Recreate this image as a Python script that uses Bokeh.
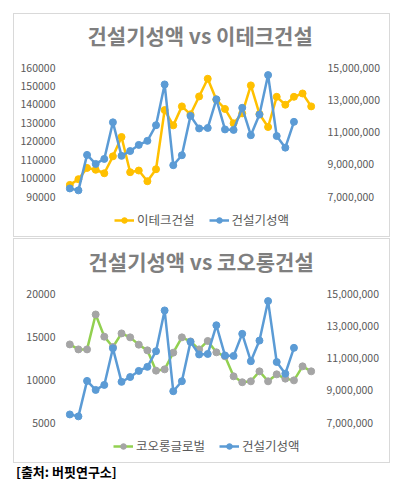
from bokeh.plotting import figure
from bokeh.models import (Range1d, LinearAxis, FixedTicker, NumeralTickFormatter,
                          Legend, LegendItem, Div, Title)
from bokeh.layouts import column
from bokeh.embed import file_html
from bokeh.resources import INLINE

# ---- data ----
months = list(range(29))
etech = [96300, 99400, 105500, 104500, 102600, 111800, 122300, 103200, 104100, 98300,
         104800, 136900, 128600, 138900, 134600, 144300, 153900, 142500, 137500, 129700,
         135100, 150300, 134800, 127700, 144100, 139800, 144100, 145900, 138900]
kolon = [14080, 13500, 13500, 17560, 14980, 13780, 15360, 14900, 14050, 13390,
         11030, 11180, 13120, 14900, 14430, 13500, 14480, 13160, 12700, 10370,
         9680, 9790, 10950, 9790, 10600, 10100, 9900, 11530, 10950]
construction = [7500000, 7380000, 9580000, 9020000, 9330000, 11600000, 9520000, 9820000,
                10200000, 10450000, 11420000, 13950000, 8940000, 9560000, 12000000,
                11220000, 11250000, 13030000, 11160000, 11130000, 12500000, 10800000,
                12080000, 14530000, 10750000, 10030000, 11630000]
etech_ticks = [90000, 100000, 110000, 120000, 130000, 140000, 150000, 160000]
kolon_ticks = [5000, 10000, 15000, 20000]
cons_ticks = [7000000, 9000000, 11000000, 13000000, 15000000]

title1 = "건설기성액 vs 이테크건설"
title2 = "건설기성액 vs 코오롱건설"
label_etech = "이테크건설"
label_kolon = "코오롱글로벌"
label_cons = "건설기성액"
source = "[출처: 버핏연구소]"

FONT = "Noto Sans CJK KR"
BLUE = "#5B9BD5"
ORANGE = "#FFC000"
GREEN = "#92D050"
GRAY = "#A5A5A5"
TXT = "#595959"


def make_chart(title, left_vals, left_ticks, left_color, left_marker, left_label,
               width, height, mbl, mbr, mbt, mbb, data_px, title_off, legend_x,
               legend_y, lstand, rstand, margin):
    frame_h = height - mbt - mbb
    # extend the value ranges downward so the tick span occupies data_px pixels
    lo_l = left_ticks[-1] - (left_ticks[-1] - left_ticks[0]) * frame_h / data_px
    lo_r = cons_ticks[-1] - (cons_ticks[-1] - cons_ticks[0]) * frame_h / data_px
    p = figure(width=width, height=height, output_backend="svg", toolbar_location=None,
               x_range=Range1d(-0.5, 28.5), y_range=Range1d(lo_l, left_ticks[-1]),
               x_axis_location=None, min_border_left=mbl, min_border_right=mbr,
               min_border_top=mbt, min_border_bottom=mbb, title=None)
    p.outline_line_color = None
    p.grid.visible = False
    p.extra_y_ranges = {"r": Range1d(lo_r, cons_ticks[-1])}
    p.margin = margin
    p.styles = {"outline": "1px solid #D9D9D9", "outline-offset": "0px"}

    p.yaxis.ticker = FixedTicker(ticks=left_ticks)
    p.yaxis.formatter = NumeralTickFormatter(format="0")
    rax = LinearAxis(y_range_name="r", ticker=FixedTicker(ticks=cons_ticks),
                     formatter=NumeralTickFormatter(format="0,0"))
    p.add_layout(rax, "right")
    for ax in p.yaxis:
        ax.axis_line_color = None
        ax.major_tick_line_color = None
        ax.minor_tick_line_color = None
        ax.major_tick_out = 0
        ax.major_tick_in = 0
        ax.minor_tick_out = 0
        ax.minor_tick_in = 0
        ax.major_label_text_font = FONT
        ax.major_label_text_font_size = "10.5px"
        ax.major_label_text_color = TXT
    p.yaxis[0].major_label_standoff = lstand
    rax.major_label_standoff = rstand

    l1 = p.line(months[:len(left_vals)], left_vals, line_color=left_color, line_width=2.5)
    s1 = p.scatter(months[:len(left_vals)], left_vals, size=7, fill_color=left_marker,
                   line_color=left_marker)
    n = len(construction)
    l2 = p.line(months[:n], construction, line_color=BLUE, line_width=2.5, y_range_name="r")
    s2 = p.scatter(months[:n], construction, size=7, fill_color=BLUE, line_color=BLUE,
                   y_range_name="r")

    items = [LegendItem(label=left_label, renderers=[l1, s1]),
             LegendItem(label=label_cons, renderers=[l2, s2])]
    leg = Legend(items=items, orientation="horizontal", location=(legend_x, legend_y),
                 border_line_color=None, background_fill_alpha=0,
                 label_text_font=FONT, label_text_font_size="12.5px",
                 label_text_color=TXT, glyph_width=20, glyph_height=14,
                 label_standoff=3, spacing=14, padding=0, margin=0)
    p.add_layout(leg)

    # spacer (closest to the frame) then the visible title above it
    spacer = Title(text=" ", text_font_size="1px", standoff=15)
    p.add_layout(spacer, "above")
    t = Title(text=title, align="left", offset=title_off, standoff=0,
              text_font=FONT, text_font_size="21px", text_font_style="bold",
              text_color="#7F7F7F")
    p.add_layout(t, "above")
    return p


p1 = make_chart(title1, etech, etech_ticks, ORANGE, ORANGE, label_etech,
                375, 222, 51, 74, 53, 1, 129, 22, 49, 6, 10, 12, (14, 0, 0, 14))
p2 = make_chart(title2, kolon, kolon_ticks, GREEN, GRAY, label_kolon,
                375, 223, 46, 73, 54, 2, 129, 23, 48, 5, 10, 11, (3, 0, 0, 14))
src = Div(text=source, width=200, height=17, margin=(1, 0, 0, 16),
          styles={"font-family": FONT, "font-size": "13px", "font-weight": "bold",
                  "color": "#000000", "line-height": "17px"})

layout = column(p1, p2, src, spacing=0)
open("out.html", "w").write(file_html(layout, INLINE))
